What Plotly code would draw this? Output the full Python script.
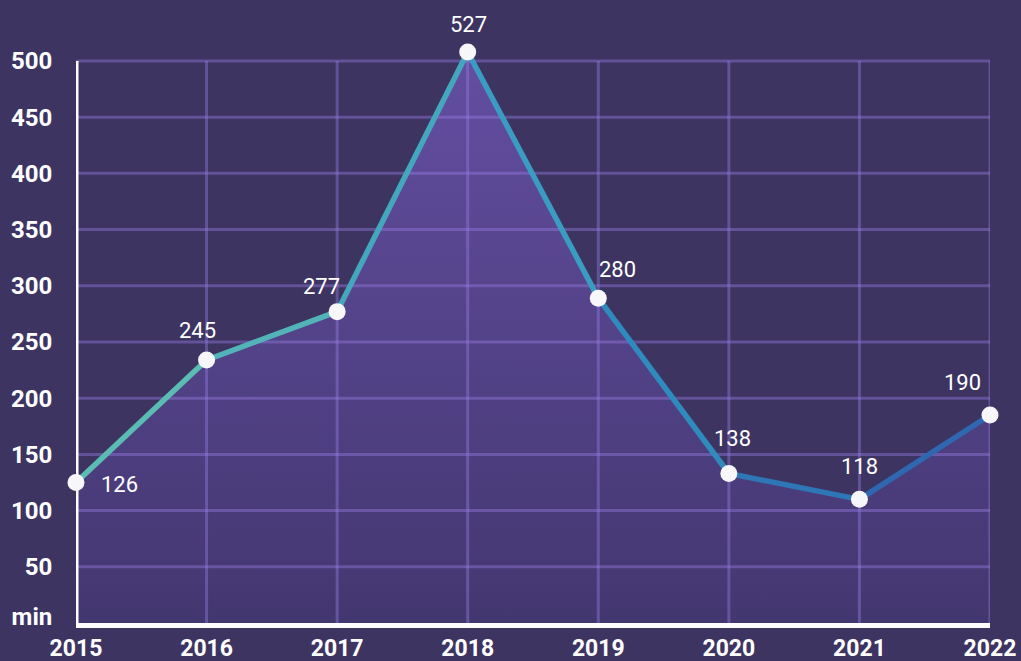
import plotly.graph_objects as go

# ---- data ----
years = [2015, 2016, 2017, 2018, 2019, 2020, 2021, 2022]
values = [125, 234, 277, 508, 289, 133, 110, 185]          # plotted positions
value_labels = ["126", "245", "277", "527", "280", "138", "118", "190"]  # printed labels
y_ticks = [50, 100, 150, 200, 250, 300, 350, 400, 450, 500]
y_tick_text = ["50", "100", "150", "200", "250", "300", "350", "400", "450", "500"]
axis_floor = 0
floor_label = "min"

# ---- styling ----
label_shift = [(43, -2), (-9, 29), (-16, 25), (1, 27), (19, 29), (4, 35), (0, 33), (-28, 33)]
segment_colors = ["#5bbcb4", "#52b4b8", "#44a8bc", "#3a9cc0", "#2f8bbd", "#2e76b6", "#2f67b1"]
BG = "#3d3462"
GRID = "rgba(155,128,233,0.40)"
FONT = "Roboto"

fig = go.Figure()

# area fill
fig.add_trace(go.Scatter(
    x=years, y=values, mode="lines", fill="tozeroy",
    line=dict(width=0, color="rgba(0,0,0,0)"),
    fillgradient=dict(type="vertical", colorscale=[[0, "#433770"], [1, "#634ea1"]],
                      start=axis_floor, stop=max(values)),
    hoverinfo="skip", showlegend=False,
))

# grid (drawn above the fill)
gx, gy = [], []
top = y_ticks[-1]
for t in y_ticks:
    gx += [years[0], years[-1], None]
    gy += [t, t, None]
for yr in years[1:]:
    gx += [yr, yr, None]
    gy += [axis_floor, top, None]
fig.add_trace(go.Scatter(x=gx, y=gy, mode="lines", line=dict(color=GRID, width=3),
                         hoverinfo="skip", showlegend=False))

# y axis line
fig.add_trace(go.Scatter(x=[years[0], years[0]], y=[axis_floor, top], mode="lines",
                         line=dict(color="white", width=5), hoverinfo="skip", showlegend=False))

# line segments with gradient colours
for i in range(len(years) - 1):
    fig.add_trace(go.Scatter(
        x=years[i:i + 2], y=values[i:i + 2], mode="lines",
        line=dict(color=segment_colors[i], width=5.5),
        hoverinfo="skip", showlegend=False,
    ))

# markers
fig.add_trace(go.Scatter(
    x=years, y=values, mode="markers",
    marker=dict(size=17, color="#f7f7f9"),
    cliponaxis=False, showlegend=False, hoverinfo="x+y",
))

# value labels
for yr, v, lab, (dx, dy) in zip(years, values, value_labels, label_shift):
    fig.add_annotation(x=yr, y=v, text=lab, showarrow=False,
                       xanchor="center", yanchor="middle", xshift=dx, yshift=dy,
                       font=dict(family=FONT, size=22, color="white"))

fig.update_layout(
    width=1021, height=661,
    margin=dict(l=76, r=31, t=16, b=38, autoexpand=False),
    paper_bgcolor=BG, plot_bgcolor=BG,
    font=dict(family=FONT, color="white"),
    xaxis=dict(
        range=[years[0], years[-1]], tickvals=years,
        ticktext=[f"<b>{y}</b>" for y in years],
        tickfont=dict(family=FONT, size=23, color="white"),
        showgrid=False, zeroline=False, automargin=False,
        showline=True, linecolor="white", linewidth=5,
        ticks="outside", ticklen=0, ticklabelstandoff=0,
    ),
    yaxis=dict(
        range=[axis_floor, 540], tickvals=[axis_floor + 6] + y_ticks,
        ticktext=[f"<b>{t}</b>" for t in [floor_label] + y_tick_text],
        tickfont=dict(family=FONT, size=24, color="white"),
        showgrid=False, zeroline=False, showline=False, automargin=False,
        ticks="outside", ticklen=0, ticklabelstandoff=18,
    ),
)

fig.write_html("out.html", config={"displayModeBar": False},
               post_script="document.body.style.margin='0';document.body.style.overflow='hidden';")
